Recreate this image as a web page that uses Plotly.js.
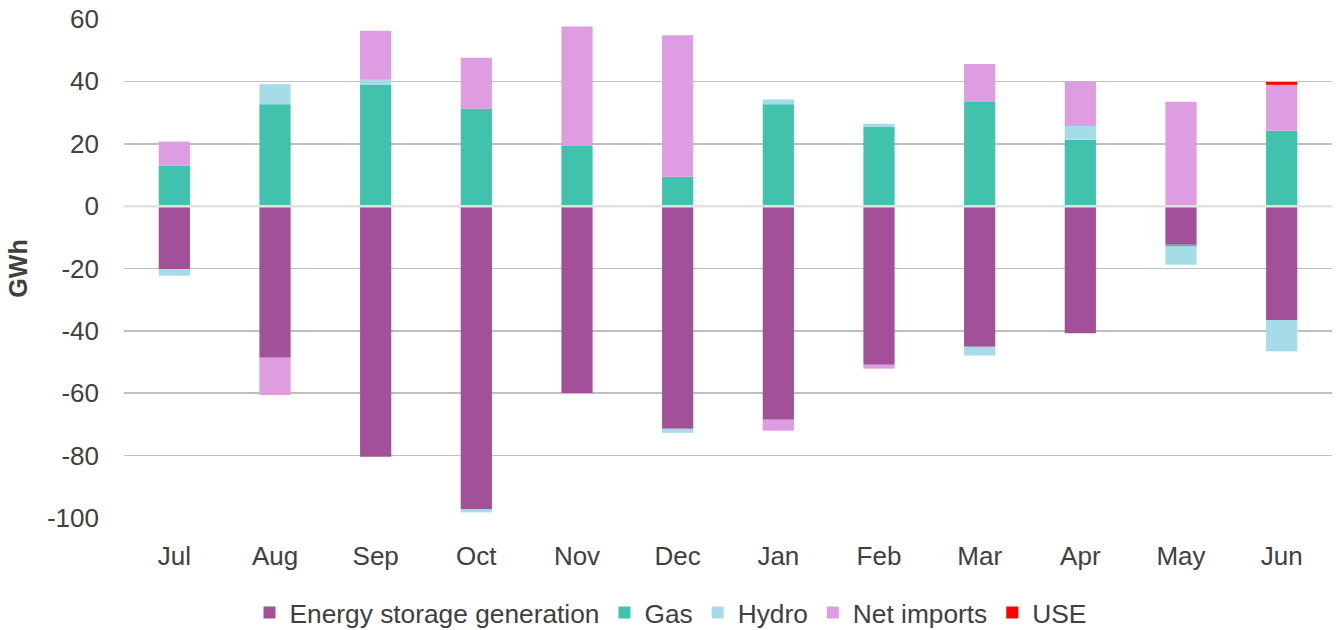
<!DOCTYPE html>
<html>
<head>
<meta charset="utf-8">
<script src="https://cdn.plot.ly/plotly-3.0.1.min.js"></script>
<style>
html,body{margin:0;padding:0;background:#fff;}
#chart{width:1341px;height:630px;}
</style>
</head>
<body>
<div id="chart"></div>
<script>
const months = ["Jul","Aug","Sep","Oct","Nov","Dec","Jan","Feb","Mar","Apr","May","Jun"];
const energyStorage = [-20.2,-48.6,-80.4,-97.3,-59.9,-71.4,-68.5,-50.9,-45.1,-40.8,-12.4,-36.5];
const gas = [12.9,32.7,39.0,31.2,19.3,9.4,32.7,25.5,33.4,21.3,-0.6,24.2];
const hydro = [-2.1,6.4,1.5,-0.9,0,-1.3,1.5,0.9,-2.8,4.4,-5.8,-10.0];
const netImports = [7.8,-12.0,15.7,16.4,38.3,45.4,-3.5,-1.2,12.2,14.3,33.5,14.7];
const use = [0,0,0,0,0,0,0,0,0,0,0,0.9];
const yTicks = [-100,-80,-60,-40,-20,0,20,40,60];

const seriesList = [
  {name:"Energy storage generation", y: energyStorage, color:"#A25199"},
  {name:"Gas", y: gas, color:"#41C2AC"},
  {name:"Hydro", y: hydro, color:"#A6DCE8"},
  {name:"Net imports", y: netImports, color:"#DD9DE0"},
  {name:"USE", y: use, color:"#FF0000"}
];

const traces = seriesList.map(s => ({
  type:"bar",
  name:s.name,
  x:months,
  y:s.y,
  marker:{color:s.color, line:{width:0}},
  hoverinfo:"x+y+name"
}));

const font = "'Liberation Sans', Arial, sans-serif";
const layout = {
  width:1341, height:630,
  barmode:"relative",
  bargap:0.69,
  paper_bgcolor:"#ffffff",
  plot_bgcolor:"#ffffff",
  margin:{l:124, r:9, t:19, b:112, autoexpand:false},
  font:{family:font, size:26, color:"#404040"},
  xaxis:{
    type:"category",
    showgrid:false, zeroline:false, showline:false,
    ticks:"", ticklabelstandoff:20,
    tickfont:{size:26, color:"#404040"},
    automargin:false
  },
  yaxis:{
    range:[-100,60],
    tickvals:yTicks,
    ticktext:yTicks.map(String),
    showgrid:true, gridcolor:"#BFBFBF", gridwidth:1.6,
    zeroline:false, showline:false,
    ticks:"", ticklabelstandoff:24,
    tickfont:{size:26, color:"#404040"},
    title:{text:"GWh", font:{size:25, color:"#404040", family:font, weight:"bold"}, standoff:12},
    automargin:false
  },
  shapes:[{
    type:"line", xref:"paper", x0:0, x1:1, yref:"y", y0:0, y1:0,
    line:{color:"#E2E2E2", width:2.5}, layer:"above"
  }],
  showlegend:true,
  legend:{
    orientation:"h",
    xref:"container", yref:"container",
    x:0.5, xanchor:"center",
    y:0.027, yanchor:"middle",
    font:{size:26.3, color:"#404040"},
    traceorder:"normal",
    itemclick:false
  }
};

Plotly.newPlot("chart", traces, layout, {displayModeBar:false, staticPlot:true});
</script>
</body>
</html>
